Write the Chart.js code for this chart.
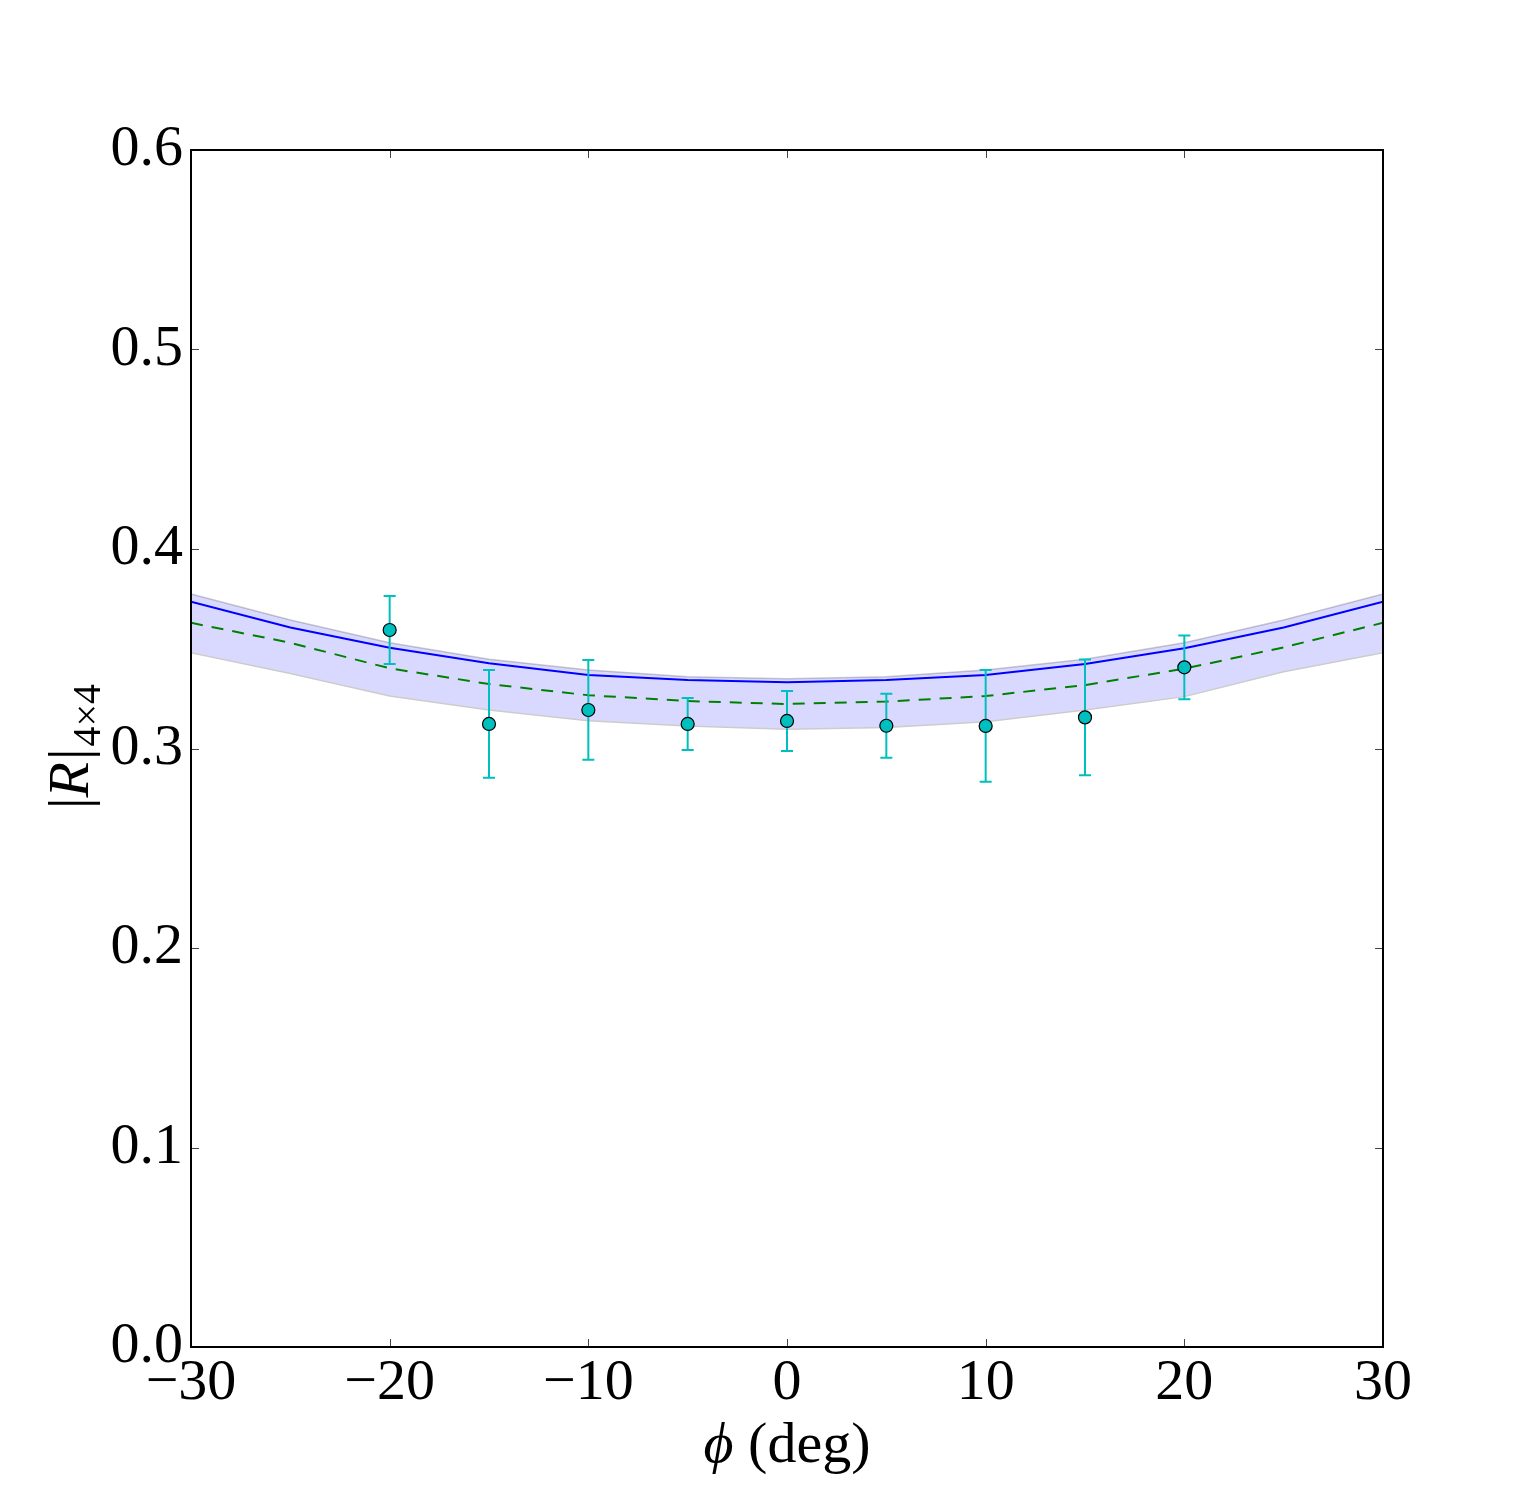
<!DOCTYPE html>
<html lang="en">
<head>
<meta charset="UTF-8" />
<title>|R| 4x4 vs phi</title>
<script src="https://cdn.jsdelivr.net/npm/chart.js"></script>
<style>
  html, body { margin: 0; padding: 0; background: #fff; }
  #wrap { width: 1538px; height: 1499px; }
</style>
</head>
<body>
<div id="wrap"><canvas id="c" width="1538" height="1499"></canvas></div>
<script>
  // model curves, sampled every 5 degrees
  const phiLine   = [-30, -25, -20, -15, -10, -5, 0, 5, 10, 15, 20, 25, 30];
  const fitLine   = [0.3736, 0.3607, 0.3505, 0.3427, 0.3368, 0.3343, 0.3332, 0.3343, 0.3368, 0.3424, 0.3502, 0.3607, 0.3736];
  const altLine   = [0.3630, 0.3530, 0.3402, 0.3323, 0.3267, 0.3238, 0.3223, 0.3235, 0.3263, 0.3318, 0.3400, 0.3507, 0.3630];
  const bandUpper = [0.3774, 0.3644, 0.3530, 0.3447, 0.3393, 0.3360, 0.3350, 0.3360, 0.3393, 0.3447, 0.3530, 0.3644, 0.3774];
  const bandLower = [0.3480, 0.3376, 0.3263, 0.3193, 0.3139, 0.3113, 0.3096, 0.3105, 0.3134, 0.3193, 0.3260, 0.3385, 0.3480];

  // measured points
  const phiData  = [-20, -15, -10, -5, 0, 5, 10, 15, 20];
  const dataVals = [0.3594, 0.3123, 0.3193, 0.3123, 0.3138, 0.3114, 0.3113, 0.3156, 0.3407];
  const dataErr  = [0.017, 0.027, 0.025, 0.013, 0.015, 0.016, 0.028, 0.029, 0.016];

  const xTicks = [-30, -20, -10, 0, 10, 20, 30];
  const yTicks = [0.0, 0.1, 0.2, 0.3, 0.4, 0.5, 0.6];

  const serif = "'Liberation Serif', 'DejaVu Serif', serif";
  const pts = (xs, ys) => xs.map((x, i) => ({ x: x, y: ys[i] }));

  // error bars under the markers
  const errorBars = {
    id: 'errorBars',
    beforeDatasetDraw(chart, args) {
      if (args.index !== 4) return;
      const ctx = chart.ctx, xs = chart.scales.x, ys = chart.scales.y;
      ctx.save();
      ctx.strokeStyle = '#00bfbf';
      ctx.lineWidth = 2;
      phiData.forEach((p, i) => {
        const px = xs.getPixelForValue(p);
        const top = ys.getPixelForValue(dataVals[i] + dataErr[i]);
        const bot = ys.getPixelForValue(dataVals[i] - dataErr[i]);
        ctx.beginPath();
        ctx.moveTo(px, top); ctx.lineTo(px, bot);
        ctx.moveTo(px - 6, top); ctx.lineTo(px + 6, top);
        ctx.moveTo(px - 6, bot); ctx.lineTo(px + 6, bot);
        ctx.stroke();
      });
      ctx.restore();
    }
  };

  // frame, inward ticks and axis titles
  const frame = {
    id: 'frame',
    afterDraw(chart) {
      const ctx = chart.ctx, a = chart.chartArea;
      const xs = chart.scales.x, ys = chart.scales.y;
      ctx.save();
      ctx.strokeStyle = '#444';
      ctx.lineWidth = 1;
      ctx.beginPath();
      xTicks.forEach(t => {
        const px = Math.round(xs.getPixelForValue(t)) + 0.5;
        ctx.moveTo(px, a.bottom); ctx.lineTo(px, a.bottom - 8);
        ctx.moveTo(px, a.top); ctx.lineTo(px, a.top + 8);
      });
      yTicks.forEach(t => {
        const py = Math.round(ys.getPixelForValue(t)) + 0.5;
        ctx.moveTo(a.left, py); ctx.lineTo(a.left + 8, py);
        ctx.moveTo(a.right, py); ctx.lineTo(a.right - 8, py);
      });
      ctx.stroke();
      ctx.strokeStyle = '#000';
      ctx.lineWidth = 2;
      ctx.strokeRect(a.left, a.top, a.right - a.left, a.bottom - a.top);

      // x title: phi (deg)
      ctx.fillStyle = '#000';
      ctx.textBaseline = 'alphabetic';
      const cx = (a.left + a.right) / 2;
      ctx.font = 'italic 58px ' + serif;
      const w1 = ctx.measureText('\u03D5').width;
      ctx.font = '58px ' + serif;
      const w2 = ctx.measureText(' (deg)').width;
      let x0 = cx - (w1 + w2) / 2;
      ctx.font = 'italic 58px ' + serif;
      ctx.fillText('\u03D5', x0, 1462);
      ctx.font = '58px ' + serif;
      ctx.fillText(' (deg)', x0 + w1, 1462);

      // y title: |R|_{4x4}
      ctx.translate(88, (a.top + a.bottom) / 2);
      ctx.rotate(-Math.PI / 2);
      ctx.font = '58px ' + serif;
      const wb = ctx.measureText('|').width;
      ctx.font = 'italic 58px ' + serif;
      const wr = ctx.measureText('R').width;
      ctx.font = '40px ' + serif;
      const ws = ctx.measureText('4\u00D74').width;
      let y0 = -(wb * 2 + wr + ws) / 2;
      ctx.font = '58px ' + serif;
      ctx.fillText('|', y0, 0);
      ctx.font = 'italic 58px ' + serif;
      ctx.fillText('R', y0 + wb, 0);
      ctx.font = '58px ' + serif;
      ctx.fillText('|', y0 + wb + wr + 2, 0);
      ctx.font = '40px ' + serif;
      ctx.fillText('4\u00D74', y0 + wb * 2 + wr + 4, 12);
      ctx.restore();
    }
  };

  new Chart(document.getElementById('c'), {
    type: 'scatter',
    data: {
      datasets: [
        {
          data: pts(phiLine, bandUpper), showLine: true, pointRadius: 0, order: 5,
          borderColor: '#cccccc', borderWidth: 1.5, fill: false, tension: 0
        },
        {
          data: pts(phiLine, bandLower), showLine: true, pointRadius: 0, order: 4,
          borderColor: '#cccccc', borderWidth: 1.5, fill: '-1',
          backgroundColor: 'rgba(0, 0, 255, 0.15)', tension: 0
        },
        {
          data: pts(phiLine, fitLine), showLine: true, pointRadius: 0, order: 2,
          borderColor: '#0000ff', borderWidth: 2, tension: 0
        },
        {
          data: pts(phiLine, altLine), showLine: true, pointRadius: 0, order: 3,
          borderColor: '#008000', borderWidth: 2, borderDash: [12, 9], tension: 0
        },
        {
          data: pts(phiData, dataVals), showLine: false, order: 0,
          pointRadius: 6.5, pointBackgroundColor: '#00bfbf',
          pointBorderColor: '#000', pointBorderWidth: 1.2
        }
      ]
    },
    options: {
      responsive: false,
      animation: false,
      devicePixelRatio: 1,
      layout: { padding: { top: 150, right: 155, left: 0, bottom: 0 } },
      plugins: { legend: { display: false }, tooltip: { enabled: false } },
      scales: {
        x: {
          type: 'linear', min: -30, max: 30,
          grid: { display: false }, border: { display: false },
          afterFit: s => { s.height = 152; },
          afterBuildTicks: s => { s.ticks = xTicks.map(v => ({ value: v })); },
          ticks: {
            padding: -6, color: '#000', maxRotation: 0,
            font: { family: serif, size: 58 },
            callback: v => (v < 0 ? '\u2212' + Math.abs(v) : String(v))
          }
        },
        y: {
          type: 'linear', min: 0, max: 0.6,
          grid: { display: false }, border: { display: false },
          afterFit: s => { s.width = 191; },
          afterBuildTicks: s => { s.ticks = yTicks.map(v => ({ value: v })); },
          ticks: {
            padding: 0, color: '#000',
            font: { family: serif, size: 58 },
            callback: v => v.toFixed(1)
          }
        }
      }
    },
    plugins: [errorBars, frame]
  });
</script>
</body>
</html>
